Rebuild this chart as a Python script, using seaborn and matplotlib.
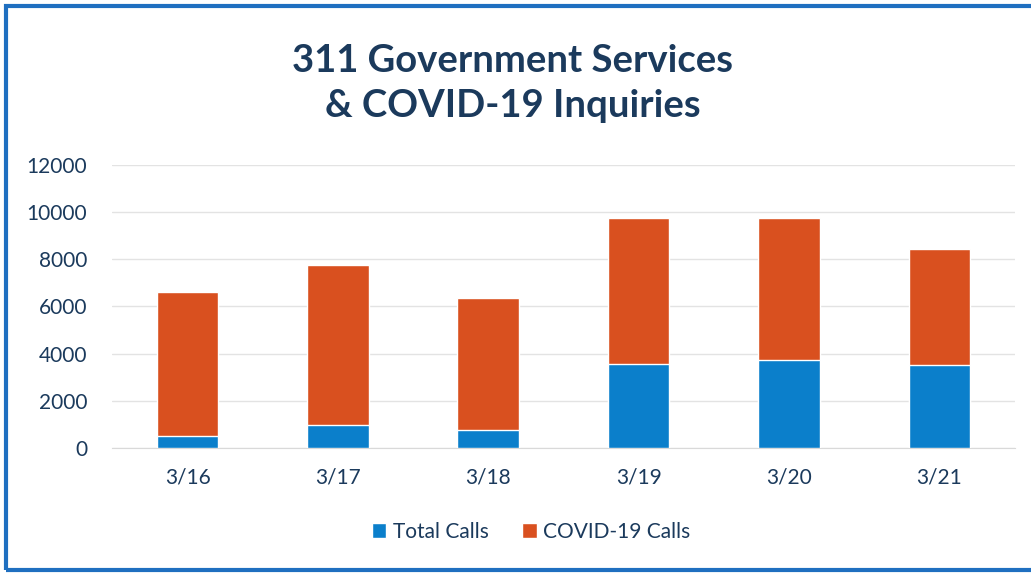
import numpy as np
import pandas as pd
import matplotlib
matplotlib.use("Agg")
import matplotlib.pyplot as plt
import seaborn as sns
from matplotlib.patches import Rectangle, Patch

# values
days = ["3/16", "3/17", "3/18", "3/19", "3/20", "3/21"]
total_calls = [500, 960, 750, 3550, 3750, 3500]
covid_calls = [6100, 6790, 5590, 6190, 5990, 4920]

BLUE = "#0b7fcb"
ORANGE = "#d9501f"
NAVY = "#1b3a5c"

sns.set_style("white")
plt.rcParams["font.family"] = ["Lato", "DejaVu Sans"]

df = pd.DataFrame({"day": days, "total": total_calls, "covid": covid_calls})
df["stack_top"] = df["total"] + df["covid"]

fig = plt.figure(figsize=(10.31, 5.75), dpi=100)
ax = fig.add_axes([0.109, 0.221, 0.875, 0.492])

# stacked bars: orange drawn to the stack top, blue on top of it from zero
sns.barplot(data=df, x="day", y="stack_top", color=ORANGE, width=0.41,
            saturation=1, ax=ax, zorder=2)
sns.barplot(data=df, x="day", y="total", color=BLUE, width=0.41,
            saturation=1, ax=ax, zorder=3)

ax.set_ylim(0, 12000)
ax.set_yticks(np.arange(0, 12001, 2000))
ax.set_xlim(-0.5, len(days) - 0.5)
ax.yaxis.grid(True, color="#e3e3e3", linewidth=1)
ax.set_axisbelow(True)
for s in ax.spines.values():
    s.set_visible(False)
ax.spines["bottom"].set_visible(True)
ax.spines["bottom"].set_color("#d9d9d9")
ax.set_xlabel("")
ax.set_ylabel("")
ax.tick_params(axis="both", length=0, labelsize=15, labelcolor=NAVY)
ax.tick_params(axis="x", pad=14)
ax.tick_params(axis="y", pad=18)

fig.text(0.497, 0.855, "311 Government Services\n& COVID-19 Inquiries",
         ha="center", va="center", fontsize=27.5, fontweight="bold",
         color=NAVY, linespacing=1.4)

handles = [Patch(facecolor=BLUE, label="Total Calls"),
           Patch(facecolor=ORANGE, label="COVID-19 Calls")]
fig.legend(handles=handles, loc="center", bbox_to_anchor=(0.515, 0.075),
           ncol=2, frameon=False, fontsize=15, handlelength=0.7,
           handleheight=0.7, handletextpad=0.3, columnspacing=1.6,
           labelcolor=NAVY)

# blue frame around the picture (right edge is cut off in the original)
fig.patches.append(Rectangle((0.006, 0.008), 1.2, 0.982, transform=fig.transFigure,
                             fill=False, edgecolor="#1f6fc0", linewidth=3))

fig.savefig("out.png", dpi=100)
